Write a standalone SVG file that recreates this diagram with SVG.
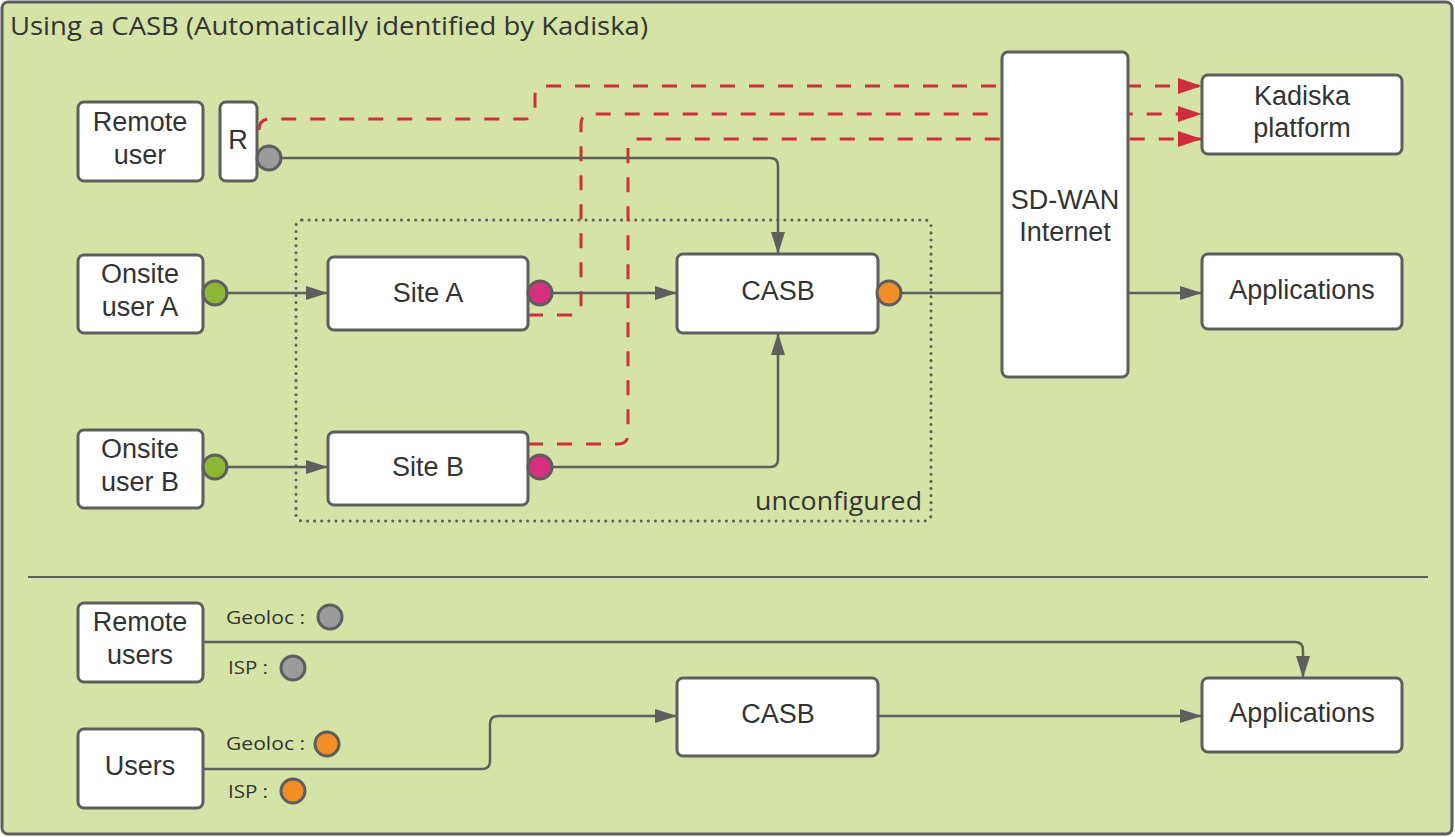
<svg xmlns="http://www.w3.org/2000/svg" width="1455" height="837" viewBox="0 0 1455 837">
<defs>
<style>
.node rect{fill:#fff;stroke:#5e5e5e;stroke-width:3}
.lbl{font-family:"Liberation Sans",Arial,sans-serif;font-size:27px;fill:#333;text-anchor:middle}
.ub{font-family:"Open Sans",Lato,sans-serif;fill:#333}
.c{stroke:#5e5e5e;stroke-width:2.5;fill:none}
.r{stroke:#cf2f3b;stroke-width:3;fill:none;stroke-dasharray:15 14}
.dot{stroke:#5e5e5e;stroke-width:3}
</style>
<marker id="ag" markerWidth="22" markerHeight="14" refX="22" refY="7" orient="auto" markerUnits="userSpaceOnUse"><path d="M0,0 L22,7 L0,14 Z" fill="#5e5e5e"/></marker>
<marker id="ar" markerWidth="24" markerHeight="16" refX="24" refY="8" orient="auto" markerUnits="userSpaceOnUse"><path d="M0,0 L24,8 L0,16 Z" fill="#cf2f3b"/></marker>
</defs>
<rect x="2" y="2" width="1450" height="832" rx="6" fill="#d5e3a7" stroke="#5e5e5e" stroke-width="3"/>
<text x="10" y="35" class="ub" font-size="25" textLength="638" lengthAdjust="spacingAndGlyphs">Using a CASB (Automatically identified by Kadiska)</text>
<rect x="296" y="220" width="635" height="301" rx="6" fill="none" stroke="#5e5e5e" stroke-width="3" stroke-dasharray="0.1 7" stroke-linecap="round"/>
<text x="755" y="510" class="ub" font-size="25" textLength="167" lengthAdjust="spacingAndGlyphs">unconfigured</text>
<line x1="28" y1="577" x2="1428" y2="577" stroke="#5e5e5e" stroke-width="2"/>
<g id="connectors">
<path class="r" d="M259,130 Q259,119 270,119 L525,119 Q535,119 535,109 L535,96 Q535,86 545,86 L1202,86" marker-end="url(#ar)"/>
<path class="r" d="M528,315 L571,315 Q581,315 581,305 L581,124 Q581,114 591,114 L1202,114" marker-end="url(#ar)"/>
<path class="r" d="M528,444 L618,444 Q628,444 628,434 L628,149 Q628,139 638,139 L1202,139" marker-end="url(#ar)"/>
<path class="c" d="M281,158 L770,158 Q778,158 778,166 L778,254" marker-end="url(#ag)"/>
<path class="c" d="M226,293 L328,293" marker-end="url(#ag)"/>
<path class="c" d="M551,293 L677,293" marker-end="url(#ag)"/>
<path class="c" d="M226,467 L328,467" marker-end="url(#ag)"/>
<path class="c" d="M551,467 L770,467 Q778,467 778,459 L778,333" marker-end="url(#ag)"/>
<path class="c" d="M901,293 L1002,293"/>
<path class="c" d="M1128,293 L1202,293" marker-end="url(#ag)"/>
<path class="c" d="M203,642 L1295,642 Q1303,642 1303,650 L1303,678" marker-end="url(#ag)"/>
<path class="c" d="M203,769 L482,769 Q490,769 490,761 L490,724 Q490,716 498,716 L677,716" marker-end="url(#ag)"/>
<path class="c" d="M878,716 L1202,716" marker-end="url(#ag)"/>
</g>
<g id="remote-user" class="node"><rect x="78" y="102" width="125" height="79" rx="6"/><text class="lbl" x="140" y="131">Remote</text><text class="lbl" x="140" y="164">user</text></g>
<g id="r" class="node"><rect x="220" y="102" width="37" height="79" rx="6"/><text class="lbl" x="238" y="149">R</text></g>
<g id="onsite-a" class="node"><rect x="78" y="255" width="125" height="78" rx="6"/><text class="lbl" x="140" y="283">Onsite</text><text class="lbl" x="140" y="316">user A</text></g>
<g id="onsite-b" class="node"><rect x="78" y="430" width="125" height="78" rx="6"/><text class="lbl" x="140" y="458">Onsite</text><text class="lbl" x="140" y="491">user B</text></g>
<g id="site-a" class="node"><rect x="328" y="257" width="200" height="73" rx="6"/><text class="lbl" x="428" y="302">Site A</text></g>
<g id="site-b" class="node"><rect x="328" y="432" width="200" height="73" rx="6"/><text class="lbl" x="428" y="476">Site B</text></g>
<g id="casb" class="node"><rect x="677" y="254" width="201" height="79" rx="6"/><text class="lbl" x="778" y="300">CASB</text></g>
<g id="sdwan" class="node"><rect x="1002" y="52" width="126" height="325" rx="6"/><text class="lbl" x="1065" y="209">SD-WAN</text><text class="lbl" x="1065" y="241">Internet</text></g>
<g id="kadiska" class="node"><rect x="1202" y="75" width="200" height="79" rx="6"/><text class="lbl" x="1302" y="105">Kadiska</text><text class="lbl" x="1302" y="137">platform</text></g>
<g id="apps" class="node"><rect x="1202" y="254" width="200" height="75" rx="6"/><text class="lbl" x="1302" y="299">Applications</text></g>
<g id="remote-users" class="node"><rect x="78" y="603" width="125" height="79" rx="6"/><text class="lbl" x="140" y="631">Remote</text><text class="lbl" x="140" y="664">users</text></g>
<g id="users" class="node"><rect x="78" y="729" width="125" height="79" rx="6"/><text class="lbl" x="140" y="775">Users</text></g>
<g id="casb2" class="node"><rect x="677" y="678" width="201" height="78" rx="6"/><text class="lbl" x="778" y="723">CASB</text></g>
<g id="apps2" class="node"><rect x="1202" y="678" width="200" height="74" rx="6"/><text class="lbl" x="1302" y="722">Applications</text></g>
<g id="dots">
<circle class="dot" cx="269" cy="158" r="12" fill="#9b9b9b"/>
<circle class="dot" cx="215" cy="293" r="12" fill="#8db836"/>
<circle class="dot" cx="215" cy="467" r="12" fill="#8db836"/>
<circle class="dot" cx="540" cy="293" r="12" fill="#d6307e"/>
<circle class="dot" cx="540" cy="467" r="12" fill="#d6307e"/>
<circle class="dot" cx="889" cy="293" r="12" fill="#f18f26"/>
</g>
<g id="legend">
<text class="ub" x="226" y="624" font-size="18" textLength="79" lengthAdjust="spacingAndGlyphs">Geoloc :</text>
<circle class="dot" cx="330" cy="617" r="12" fill="#9b9b9b"/>
<text class="ub" x="228" y="674" font-size="18" textLength="40" lengthAdjust="spacingAndGlyphs">ISP :</text>
<circle class="dot" cx="293" cy="668" r="12" fill="#9b9b9b"/>
<text class="ub" x="226" y="750" font-size="18" textLength="79" lengthAdjust="spacingAndGlyphs">Geoloc :</text>
<circle class="dot" cx="327" cy="744" r="12" fill="#f18f26"/>
<text class="ub" x="228" y="798" font-size="18" textLength="40" lengthAdjust="spacingAndGlyphs">ISP :</text>
<circle class="dot" cx="293" cy="791" r="12" fill="#f18f26"/>
</g>
</svg>
